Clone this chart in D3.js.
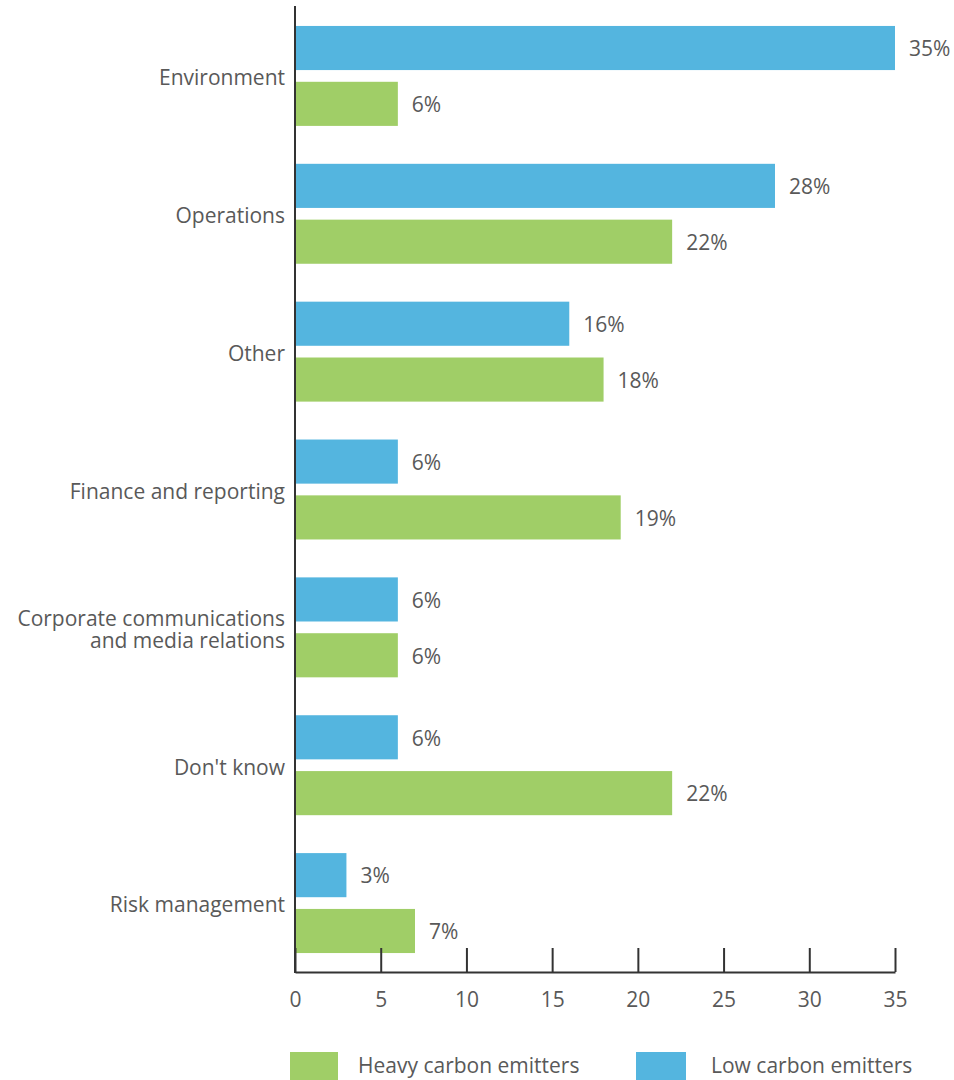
<!DOCTYPE html>
<html>
<head>
<meta charset="utf-8">
<script src="https://cdn.jsdelivr.net/npm/d3@7"></script>
<style>
  html, body { margin: 0; padding: 0; background: #fff; }
  svg { display: block; font-family: "Open Sans", sans-serif; }
</style>
</head>
<body>
<svg id="chart" width="954" height="1080"></svg>
<script>
// Department responsible, by emitter group (% of respondents)
const categories = [
  "Environment",
  "Operations",
  "Other",
  "Finance and reporting",
  "Corporate communications\nand media relations",
  "Don't know",
  "Risk management"
];
const lowCarbon   = [35, 28, 16, 6, 6, 6, 3];
const heavyCarbon = [6, 22, 18, 19, 6, 22, 7];
const xTicks = [0, 5, 10, 15, 20, 25, 30, 35];
const seriesNames = ["Low carbon emitters", "Heavy carbon emitters"];
const seriesColors = ["#54b5df", "#a0ce67"];

const svg = d3.select("#chart");
const textColor = "#595959";
const axisColor = "#333333";
const fontSize = "21px";

const x = d3.scaleLinear().domain([0, 35]).range([295, 895]);
const y = d3.scaleBand().domain(categories).range([7, 972])
  .paddingInner(0.275).paddingOuter(0.1375);
const sub = d3.scaleBand().domain(seriesNames).range([0, y.bandwidth()])
  .paddingInner(0.21);
const color = d3.scaleOrdinal().domain(seriesNames).range(seriesColors);

const rows = categories.map((c, i) => ({
  cat: c,
  values: [
    { key: seriesNames[0], v: lowCarbon[i] },
    { key: seriesNames[1], v: heavyCarbon[i] }
  ]
}));

// bars
const groups = svg.append("g").selectAll("g").data(rows).join("g")
  .attr("transform", d => `translate(0,${y(d.cat)})`);

groups.selectAll("rect").data(d => d.values).join("rect")
  .attr("x", x(0))
  .attr("y", d => sub(d.key))
  .attr("width", d => x(d.v) - x(0))
  .attr("height", sub.bandwidth())
  .attr("fill", d => color(d.key));

groups.selectAll("text.val").data(d => d.values).join("text")
  .attr("class", "val")
  .attr("x", d => x(d.v) + 14)
  .attr("y", d => sub(d.key) + sub.bandwidth() / 2 + 1)
  .attr("dy", "0.35em")
  .attr("fill", textColor)
  .style("font-size", fontSize)
  .text(d => d.v + "%");

// category labels
const catLabels = svg.append("g").selectAll("text").data(categories).join("text")
  .attr("text-anchor", "end")
  .attr("fill", textColor)
  .style("font-size", fontSize)
  .attr("transform", d => `translate(285,${y(d) + y.bandwidth() / 2 + 2})`);

catLabels.each(function(d) {
  const lines = d.split("\n");
  const lh = 22;
  const t = d3.select(this);
  lines.forEach((ln, i) => {
    t.append("tspan")
      .attr("x", 0)
      .attr("y", (i - (lines.length - 1) / 2) * lh)
      .attr("dy", "0.35em")
      .text(ln);
  });
});

// x axis with upward ticks
const xAxis = svg.append("g")
  .attr("transform", "translate(0,972)")
  .call(d3.axisBottom(x).tickValues(xTicks).tickSize(-24).tickPadding(20).tickSizeOuter(0));
xAxis.select(".domain").attr("stroke", axisColor).attr("stroke-width", 2);
xAxis.selectAll(".tick line").attr("stroke", axisColor).attr("stroke-width", 2);
xAxis.selectAll(".tick text")
  .attr("fill", textColor)
  .style("font-size", fontSize)
  .style("font-family", "'Open Sans', sans-serif");

// vertical axis line
svg.append("line")
  .attr("x1", x(0)).attr("x2", x(0))
  .attr("y1", 6).attr("y2", 973)
  .attr("stroke", axisColor).attr("stroke-width", 2);

// legend
const legendItems = [
  { key: seriesNames[1], sx: 290, sw: 48, tx: 358 },
  { key: seriesNames[0], sx: 636, sw: 50, tx: 711 }
];
const legend = svg.append("g").selectAll("g").data(legendItems).join("g");
legend.append("rect")
  .attr("x", d => d.sx).attr("y", 1052)
  .attr("width", d => d.sw).attr("height", 28)
  .attr("fill", d => color(d.key));
legend.append("text")
  .attr("x", d => d.tx).attr("y", 1066)
  .attr("dy", "0.35em")
  .attr("fill", textColor)
  .style("font-size", fontSize)
  .text(d => d.key);
</script>
</body>
</html>
